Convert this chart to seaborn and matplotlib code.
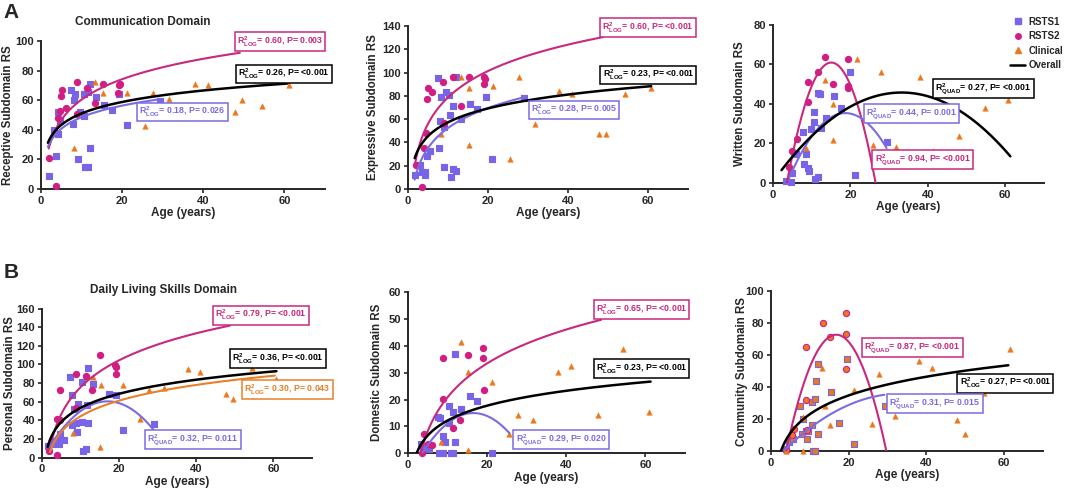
import numpy as np
import seaborn as sns
import matplotlib.pyplot as plt
from matplotlib.lines import Line2D

sns.set_style('ticks')
plt.rcParams['font.family'] = ['Liberation Sans', 'DejaVu Sans']
plt.rcParams['font.weight'] = 'bold'
plt.rcParams['mathtext.fontset'] = 'custom'
plt.rcParams['mathtext.bf'] = 'Liberation Sans:bold'
plt.rcParams['mathtext.rm'] = 'Liberation Sans:bold'
plt.rcParams['mathtext.default'] = 'bf'

C_S1 = '#7864e6'
C_S2 = '#d21e82'
C_CL = '#eb781e'
L_S1 = '#7b6be0'
L_S2 = '#c8287d'
L_CL = '#e8802a'

#%% data (ages in years, raw scores) ########################################
# receptive
rec_s1_age = [1.9, 3.7, 3.1, 4.3, 4.1, 4.8, 7.5, 8.2, 8.4, 7.9, 9.1, 9.5, 10.5, 10.6, 10.9,
              11.5, 11.5, 12.0, 12.1, 13.6, 15.6, 17.5, 19.3, 21.3, 29.3]
rec_s1_rs = [9, 22.5, 40, 37.5, 52, 46, 67, 60, 64, 44, 20, 52, 64, 49, 14.6,
             15, 65.6, 71, 28, 62, 57, 53.7, 64, 43, 59.5]
rec_s2_age = [2.0, 3.8, 4.1, 4.8, 4.9, 5.2, 6.1, 8.9, 8.9, 11.3, 13.2, 15.2, 19.1, 18.9, 19.5]
rec_s2_rs = [21, 2, 48, 53, 63, 67, 55, 72, 51, 68, 58, 71, 70.5, 65, 71]
rec_cl_age = [8.2, 13.4, 15.4, 21.3, 25.7, 27.7, 31.6, 38, 41.2, 47.8, 49.6, 54.5, 61]
rec_cl_rs = [28, 72, 65, 65, 42.5, 65, 61, 71, 70, 52, 60, 56, 70]

# expressive
exp_s1_age = [1.7, 2.9, 3.6, 4.2, 4.2, 4.75, 5.6, 7.5, 7.7, 8.1, 8.3, 8.9, 8.9, 9.4, 10.2,
              10.4, 10.7, 11.25, 11.25, 11.9, 11.9, 13.3, 15.4, 17.25, 19.4, 21.1, 28.9]
exp_s1_rs = [11.7, 21, 15, 15, 11.7, 28, 33, 95, 35, 58, 79, 53.6, 19, 83.5, 80.7,
             64, 10, 71, 17, 96, 15.7, 60, 72.7, 69, 79, 26, 78.4]
exp_s2_age = [1.9, 3.6, 3.9, 4.4, 4.75, 5.0, 6.0, 8.75, 8.9, 11.25, 13.2, 15.2, 18.9, 19.0, 19.2]
exp_s2_rs = [21, 1.7, 35.6, 48.5, 77, 86.4, 83.5, 92, 56.5, 96, 71.6, 96, 96, 90, 94.4]
exp_cl_age = [8.3, 13.3, 15.25, 15.2, 21.25, 25.6, 27.7, 31.7, 37.75, 41.1, 47.75, 49.6, 54.3, 60.8]
exp_cl_rs = [47.3, 96, 86.4, 38, 88.4, 25.7, 96, 56, 84, 82, 47, 47, 82, 87]

# written
wri_s1_age = [3.45, 4.6, 4.9, 5.9, 7.8, 8.0, 8.4, 9.1, 9.2, 9.7, 10.5, 10.5, 10.8, 11.5,
              11.65, 12.1, 12.3, 13.6, 15.7, 17.5, 19.9, 21.3, 29.35]
wri_s1_rs = [1.2, 0.3, 5, 14.8, 25.8, 9.8, 14.8, 7.6, 5.9, 27.3, 35.9, 30.8, 2, 45.8,
             2.9, 45, 27.8, 32.8, 44, 37.9, 56, 3.9, 21]
wri_s2_age = [4.1, 4.9, 6.2, 9.1, 9.1, 11.65, 13.4, 15.5, 19.25, 19.4, 19.4]
wri_s2_rs = [7.9, 16, 22.2, 41, 51, 56, 63.7, 50.2, 62.8, 49.2, 48]
wri_cl_age = [8.6, 13.4, 15.5, 15.4, 21.6, 25.9, 27.9, 31.9, 38, 41.4, 48.1, 49.8, 54.65, 60.8]
wri_cl_rs = [17.7, 51.9, 40, 21.9, 62.8, 19, 56, 18, 53.9, 16, 23.9, 8.9, 37.9, 41.8]

# personal
per_s1_age = [1.47, 3.2, 3.6, 4.0, 4.2, 4.5, 4.7, 5.7, 7.25, 7.9, 7.9, 8.4, 8.8, 9.2, 9.4,
              10.3, 10.45, 10.7, 11.3, 11.6, 12.0, 12.0, 13.3, 17.4, 19.3, 21.1, 29.1]
per_s1_rs = [12.5, 14.3, 17.5, 15.7, 19.2, 15, 25.7, 19.2, 86, 67, 35, 52.4, 37, 27.4, 57,
             81, 38, 7, 9.6, 56, 96, 37, 79, 68.4, 67.4, 30, 36.4]
per_s2_age = [1.9, 3.8, 4.0, 4.7, 4.7, 8.7, 8.8, 11.3, 13.1, 15.0, 18.9, 19.1, 19.1]
per_s2_rs = [7, 2.5, 41, 72.7, 40, 89.8, 53, 88, 73, 110, 99.4, 97, 89.8]
per_cl_age = [8.1, 13.3, 15.2, 15.0, 21.1, 25.4, 27.7, 31.6, 37.9, 40.9, 47.8, 49.6, 54.5, 60.8]
per_cl_rs = [26.7, 86, 78, 11.4, 78, 41, 72, 74.5, 95, 91.6, 68.4, 62.4, 96, 84.5]

# domestic
dom_s1_age = [3.3, 3.9, 5.3, 7.5, 8.1, 7.8, 8.9, 8.9, 9.3, 10.4, 10.4, 10.8, 11.4, 11.4,
              11.8, 12.0, 13.5, 15.6, 17.5, 21.2]
dom_s1_rs = [3.5, 1.9, 1.5, 13.4, 13.1, 0, 0, 6.5, 4.4, 17.75, 11.25, 0, 0, 15.25,
             36.9, 4.4, 16.5, 21.25, 19.6, 0.25]
dom_s2_age = [3.6, 4.0, 5.0, 6.0, 8.9, 8.9, 11.4, 13.1, 15.2, 18.9, 18.9, 19.3]
dom_s2_rs = [0, 7.25, 3.4, 3.1, 35.4, 20.4, 9.4, 12.25, 36.5, 39.4, 35.4, 23.5]
dom_cl_age = [8.3, 13.3, 15.2, 15.2, 21.2, 25.6, 27.7, 31.7, 37.9, 41.1, 47.9, 49.6, 54.4, 60.9]
dom_cl_rs = [4.4, 41.5, 30.25, 1.25, 26.5, 7.25, 14.4, 12.5, 30.25, 32.5, 14.4, 6.5, 38.75, 15.4]

# community
com_s1_age = [4.0, 4.7, 5.8, 7.5, 7.9, 8.2, 9.0, 9.2, 9.5, 10.5, 10.5, 10.8, 11.4, 11.4,
              11.5, 12.05, 12.2, 15.5, 17.6, 19.5, 21.3, 29.4]
com_s1_rs = [1.5, 5.6, 7.3, 28, 10.4, 20.3, 12.5, 7.3, 12.5, 30.7, 16.5, 0, 0, 32.8,
             43.8, 54.3, 10.4, 37, 17.5, 57.8, 4.6, 28]
com_s2_age = [4.0, 5.5, 6.0, 9.0, 9.0, 9.4, 13.3, 15.1, 19.2, 19.2, 19.4]
com_s2_rs = [0.4, 10.2, 14, 65, 31.7, 13.4, 80, 71, 86, 72.9, 51]
com_cl_age = [3.8, 8.35, 8.2, 13.1, 13.8, 15.2, 21.3, 26, 27.9, 31.8, 38, 41.5, 47.9, 49.9, 54.8, 61.5]
com_cl_rs = [0, 0, 21, 52, 28, 16, 38.4, 16.7, 48, 22, 56, 52, 19.2, 10.9, 36.5, 64]

#%% fitted trend lines: (kind, coefficients, age from, age to, colour) ########
# log: y = a + b*ln(age)   quad: np.polyval coefficients
rec_fits = [('log', [14.6, 19.9], 1.9, 49, L_S2),
            ('log', [22.5, 11.3], 1.7, 29.75, L_S1),
            ('log', [25.3, 11.19], 1.7, 60.7, 'black')]
exp_fits = [('log', [3.4, 32.7], 1.67, 48.75, L_S2),
            ('log', [-4.7, 24.8], 1.67, 29.6, L_S1),
            ('log', [17.7, 17.2], 1.67, 60.8, 'black')]
wri_fits = [('quad', [-0.465, 14.0, -44.4], 3.6, 26.5, L_S2),
            ('quad', [-0.156, 5.834, -19.15], 4.3, 29.35, L_S1),
            ('quad', [-0.0409, 2.716, 0.72], 2.2, 61.3, 'black')]
per_fits = [('log', [-20.8, 41.8], 1.9, 48.7, L_S2),
            ('quad', [-0.215, 7.31, -1.835], 1.9, 29.1, L_S1),
            ('log', [-11.7, 24.3], 2.07, 60.4, L_CL),
            ('log', [3.0, 21.84], 1.47, 60.8, 'black')]
dom_fits = [('log', [-21.0, 18.2], 2.0, 48.8, L_S2),
            ('quad', [-0.09, 2.97, -9.5], 3.6, 25.6, L_S1),
            ('log', [-6.2, 8.0], 2.0, 61.3, 'black')]
com_fits = [('quad', [-0.437, 14.683, -50.64], 3.85, 29.7, L_S2),
            ('quad', [-0.0392, 2.622, -7.99], 3.2, 29.2, L_S1),
            ('log', [-15.9, 16.9], 2.56, 61.1, 'black')]

LOG = r'R$^{2}_{LOG}$'
QUAD = r'R$^{2}_{QUAD}$'
rec_notes = [(LOG + '= 0.60, P= 0.003', L_S2, 58.9, 99.7),
             (LOG + '= 0.26, P= <0.001', 'black', 59.8, 77.7),
             (LOG + '= 0.18, P= 0.026', L_S1, 34.9, 52)]
exp_notes = [(LOG + '= 0.60, P= <0.001', L_S2, 59.9, 138.7),
             (LOG + '= 0.23, P= <0.001', 'black', 60.1, 97.9),
             (LOG + '= 0.28, P= 0.005', L_S1, 41.5, 67.9)]
wri_notes = [(QUAD + '= 0.27, P= <0.001', 'black', 54.4, 47.8),
             (QUAD + '= 0.44, P= 0.001', L_S1, 35.8, 35.2),
             (QUAD + '= 0.94, P= <0.001', L_S2, 38.7, 11.9)]
per_notes = [(LOG + '= 0.79, P= <0.001', L_S2, 56.7, 152.7),
             (LOG + '= 0.36, P= <0.001', 'black', 61.1, 106.4),
             (LOG + '= 0.30, P= 0.043', L_CL, 63.6, 72.9),
             (QUAD + '= 0.32, P= 0.011', L_S1, 39.1, 19.1)]
dom_notes = [(LOG + '= 0.65, P= <0.001', L_S2, 59, 53.6),
             (LOG + '= 0.23, P= <0.001', 'black', 59, 31.6),
             (QUAD + '= 0.29, P= 0.020', L_S1, 38.7, 5.0)]
com_notes = [(QUAD + '= 0.87, P= <0.001', L_S2, 36.4, 64.5),
             (LOG + '= 0.27, P= <0.001', 'black', 60.3, 42.3),
             (QUAD + '= 0.31, P= 0.015', L_S1, 42.2, 29.5)]

FIG_W, FIG_H = 1065, 493


#%% plotting ################################################################
def panel(fig, rect, s1, s2, cl, fits, notes, ymax, ystep, ylabel, lab_off, community=False):
    ax = fig.add_axes(rect)
    if community:  # this panel has orange-filled RSTS markers in the source
        sq_face, sq_edge, ci_face, ci_edge = C_CL, C_S1, C_CL, C_S2
    else:
        sq_face, sq_edge, ci_face, ci_edge = C_S1, C_S1, C_S2, C_S2
    sns.scatterplot(x=s1[0], y=s1[1], marker='s', s=18, color=sq_face,
                    edgecolor=sq_edge, linewidth=0.8, ax=ax, zorder=3, clip_on=False)
    sns.scatterplot(x=s2[0], y=s2[1], marker='o', s=20, color=ci_face,
                    edgecolor=ci_edge, linewidth=0.8, ax=ax, zorder=3, clip_on=False)
    sns.scatterplot(x=cl[0], y=cl[1], marker='^', s=16, color=C_CL,
                    edgecolor=C_CL, linewidth=0.3, ax=ax, zorder=3, clip_on=False)

    for kind, coef, x0, x1, col in fits:
        xs = np.linspace(x0, x1, 200)
        if kind == 'log':
            ys = coef[0] + coef[1] * np.log(xs)
        else:
            ys = np.polyval(coef, xs)
        sns.lineplot(x=xs, y=ys, color=col, lw=1.8 if col == 'black' else 1.5,
                     ax=ax, zorder=4)

    for txt, col, x, y in notes:
        ax.text(x, y, txt, color=col, fontsize=6.3, fontweight='bold',
                ha='center', va='center', zorder=6, clip_on=False,
                bbox=dict(boxstyle='square,pad=0.25', fc='white', ec=col, lw=1.1))

    ax.set_xlim(0, 70)
    ax.set_ylim(0, ymax)
    ax.set_xticks([0, 20, 40, 60])
    ax.set_yticks(np.arange(0, ymax + 1, ystep))
    sns.despine(ax=ax)
    for sp in ['left', 'bottom']:
        ax.spines[sp].set_linewidth(1.4)
    ax.tick_params(labelsize=8, width=1.2, length=3, pad=2)
    ax.set_xlabel('Age (years)', fontsize=8.5, fontweight='bold', labelpad=1)
    ax.set_ylabel(ylabel, fontsize=8.3, fontweight='bold')
    # the label's right edge sits a fixed number of pixels left of the axis
    ax.yaxis.set_label_coords(-lab_off / (rect[2] * FIG_W), 0.5)
    return ax


fig = plt.figure(figsize=(FIG_W / 100, FIG_H / 100), dpi=100)

panel(fig, [0.0385, 0.6166, 0.2667, 0.3002], (rec_s1_age, rec_s1_rs), (rec_s2_age, rec_s2_rs),
      (rec_cl_age, rec_cl_rs), rec_fits, rec_notes, 100, 20, 'Receptive Subdomain RS', 27)
panel(fig, [0.3831, 0.6166, 0.2629, 0.3306], (exp_s1_age, exp_s1_rs), (exp_s2_age, exp_s2_rs),
      (exp_cl_age, exp_cl_rs), exp_fits, exp_notes, 140, 20, 'Expressive Subdomain RS', 29)
panel(fig, [0.7258, 0.6288, 0.2545, 0.3205], (wri_s1_age, wri_s1_rs), (wri_s2_age, wri_s2_rs),
      (wri_cl_age, wri_cl_rs), wri_fits, wri_notes, 80, 20, 'Written Subdomain RS', 27)
panel(fig, [0.0394, 0.0720, 0.2535, 0.3022], (per_s1_age, per_s1_rs), (per_s2_age, per_s2_rs),
      (per_cl_age, per_cl_rs), per_fits, per_notes, 160, 20, 'Personal Subdomain RS', 26)
panel(fig, [0.3831, 0.0805, 0.2601, 0.3266], (dom_s1_age, dom_s1_rs), (dom_s2_age, dom_s2_rs),
      (dom_cl_age, dom_cl_rs), dom_fits, dom_notes, 60, 10, 'Domestic Subdomain RS', 25)
panel(fig, [0.7239, 0.0852, 0.2554, 0.3245], (com_s1_age, com_s1_rs), (com_s2_age, com_s2_rs),
      (com_cl_age, com_cl_rs), com_fits, com_notes, 100, 20, 'Community Subdomain RS', 23,
      community=True)

# titles and panel letters
fig.text(143 / FIG_W, 1 - 22 / FIG_H, 'Communication Domain', fontsize=8.5, fontweight='bold',
         ha='center', va='center')
fig.text(163 / FIG_W, 1 - 290 / FIG_H, 'Daily Living Skills Domain', fontsize=8.5,
         fontweight='bold', ha='center', va='center')
fig.text(11 / FIG_W, 1 - 12 / FIG_H, 'A', fontsize=15, fontweight='bold', ha='center', va='center')
fig.text(11 / FIG_W, 1 - 272 / FIG_H, 'B', fontsize=15, fontweight='bold', ha='center', va='center')

# legend
handles = [Line2D([], [], marker='s', ls='', color=C_S1, markersize=4),
           Line2D([], [], marker='o', ls='', color=C_S2, markersize=4),
           Line2D([], [], marker='^', ls='', color=C_CL, markersize=4),
           Line2D([], [], color='black', lw=1.8)]
fig.legend(handles, ['RSTS1', 'RSTS2', 'Clinical', 'Overall'], loc='upper left',
           bbox_to_anchor=(1003 / FIG_W, 1 - 10 / FIG_H), frameon=False,
           prop={'size': 7, 'weight': 'bold'}, handlelength=1.6, handletextpad=0.3,
           labelspacing=0.45, borderpad=0.2, markerfirst=True)

fig.savefig('out.png', dpi=100)
